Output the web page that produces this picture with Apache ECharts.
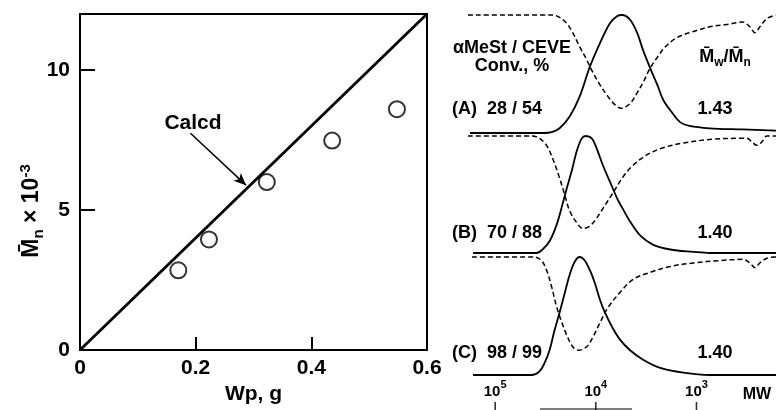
<!DOCTYPE html>
<html><head><meta charset="utf-8">
<script src="https://cdn.jsdelivr.net/npm/echarts@6/dist/echarts.min.js"></script>
<style>html,body{margin:0;padding:0;background:#fff}#c{width:776px;height:410px}</style>
</head><body><div id="c"></div>
<script>
// ---------- Left plot: Mn vs Wp ----------
const wp = [0.170, 0.223, 0.323, 0.436, 0.548];
const mnObs = [2.85, 3.95, 6.0, 7.48, 8.6];
const calcdWp = [0, 0.6];
const calcdMn = [0, 12];
const leftXTicks = [0, 0.2, 0.4, 0.6];
const leftYTicks = [0, 5, 10];

// ---------- Right panel: GPC traces (x = log10 MW) ----------
const mwTicks = [5, 4, 3];
const aSolidX = [5.25, 4.51, 4.43, 4.36, 4.26, 4.16, 4.06, 3.96, 3.86, 3.79, 3.74, 3.66, 3.59, 3.53, 3.46, 3.39, 3.33, 3.24, 3.16, 3.07, 2.87, 2.54, 2.21];
const aSolidY = [0, 0, 0.01, 0.04, 0.14, 0.31, 0.56, 0.76, 0.93, 0.99, 1.0, 0.96, 0.85, 0.70, 0.55, 0.41, 0.28, 0.17, 0.09, 0.06, 0.04, 0.03, 0.02];
const aDashX = [5.27, 4.43, 4.36, 4.29, 4.23, 4.16, 4.09, 4.04, 3.96, 3.88, 3.81, 3.75, 3.66, 3.59, 3.53, 3.46, 3.39, 3.31, 3.19, 3.03, 2.87, 2.70, 2.54, 2.47, 2.42, 2.37, 2.30, 2.21];
const aDashY = [1.0, 1.0, 0.98, 0.93, 0.85, 0.73, 0.62, 0.53, 0.41, 0.31, 0.24, 0.21, 0.25, 0.34, 0.43, 0.55, 0.64, 0.73, 0.81, 0.86, 0.90, 0.92, 0.94, 0.90, 0.85, 0.90, 0.97, 1.0];
const bSolidX = [5.22, 4.59, 4.53, 4.46, 4.39, 4.33, 4.29, 4.24, 4.19, 4.14, 4.10, 4.04, 3.99, 3.93, 3.86, 3.79, 3.74, 3.66, 3.56, 3.43, 3.26, 3.03, 2.87, 2.21];
const bSolidY = [0, 0, 0.03, 0.10, 0.24, 0.42, 0.55, 0.70, 0.87, 0.98, 1.0, 0.98, 0.89, 0.75, 0.61, 0.47, 0.39, 0.27, 0.15, 0.07, 0.03, 0.01, 0, 0];
const bDashX = [5.27, 4.63, 4.56, 4.49, 4.43, 4.36, 4.31, 4.26, 4.19, 4.13, 4.06, 3.99, 3.93, 3.84, 3.73, 3.63, 3.49, 3.33, 3.13, 2.87, 2.60, 2.50, 2.45, 2.40, 2.35, 2.30, 2.21];
const bDashY = [1.0, 1.0, 0.98, 0.92, 0.81, 0.64, 0.50, 0.36, 0.26, 0.21, 0.23, 0.30, 0.38, 0.50, 0.65, 0.75, 0.84, 0.90, 0.94, 0.97, 0.98, 0.98, 0.95, 0.92, 0.95, 1.0, 1.0];
const cSolidX = [5.22, 4.63, 4.56, 4.51, 4.46, 4.41, 4.36, 4.31, 4.26, 4.21, 4.16, 4.11, 4.06, 4.01, 3.96, 3.91, 3.84, 3.76, 3.66, 3.53, 3.36, 3.13, 2.87, 2.21];
const cSolidY = [0, 0, 0.03, 0.10, 0.21, 0.38, 0.53, 0.69, 0.85, 0.96, 1.0, 0.97, 0.89, 0.78, 0.64, 0.53, 0.41, 0.30, 0.21, 0.13, 0.06, 0.02, 0, 0];
const cDashX = [5.23, 4.61, 4.54, 4.49, 4.44, 4.39, 4.34, 4.29, 4.23, 4.17, 4.09, 4.03, 3.96, 3.88, 3.76, 3.63, 3.46, 3.26, 3.03, 2.77, 2.54, 2.47, 2.42, 2.37, 2.30, 2.21];
const cDashY = [1.0, 1.0, 0.97, 0.89, 0.75, 0.58, 0.45, 0.34, 0.24, 0.21, 0.24, 0.32, 0.44, 0.57, 0.70, 0.81, 0.87, 0.92, 0.95, 0.97, 0.98, 0.95, 0.91, 0.95, 0.99, 1.0];

const panelLabels = ['(A)  28 / 54', '(B)  70 / 88', '(C)  98 / 99'];
const pdiValues = ['1.43', '1.40', '1.40'];

const FF = "'Liberation Sans', Arial, Helvetica, sans-serif";
const zip = (xs, ys) => xs.map((x, i) => [x, ys[i]]);

const chart = echarts.init(document.getElementById('c'), null, {renderer: 'canvas'});

const rightGrids = [
  {left: 467, right: 0, top: 15, height: 118},
  {left: 467, right: 0, top: 136, height: 117},
  {left: 467, right: 0, top: 257, height: 118},
  {left: 467, right: 0, top: 403, height: 8}
];

const mwBase = gi => ({
  type: 'value', gridIndex: gi, inverse: true, min: 2.21, max: 5.28,
  splitLine: {show: false}, axisLine: {show: false}
});
const mwHidden = gi => Object.assign(mwBase(gi), {axisTick: {show: false}, axisLabel: {show: false}});
const mwLabels = Object.assign(mwBase(3), {
  offset: 28,
  axisTick: {show: false},
  axisLabel: {
    show: true, customValues: mwTicks, inside: true, margin: 4,
    formatter: v => '{b|10}{p|' + v + '}',
    rich: {
      b: {fontFamily: FF, fontWeight: 'bold', fontSize: 15, color: '#000', lineHeight: 20, verticalAlign: 'bottom'},
      p: {fontFamily: FF, fontWeight: 'bold', fontSize: 11, color: '#000', lineHeight: 12, verticalAlign: 'top'}
    }
  }
});
const hiddenY = gi => ({type: 'value', gridIndex: gi, min: 0, max: 1, show: false});

const solid = (gi, xs, ys) => ({type: 'line', xAxisIndex: gi, yAxisIndex: gi, data: zip(xs, ys), symbol: 'none', smooth: 0.35, clip: false,
  lineStyle: {color: '#000', width: 1.8}});
const dashed = (gi, xs, ys) => ({type: 'line', xAxisIndex: gi, yAxisIndex: gi, data: zip(xs, ys), symbol: 'none', smooth: 0.35, clip: false,
  lineStyle: {color: '#000', width: 1.5, type: [5, 3]}});

const boldTxt = (text, x, y, size, align) => ({type: 'text', x: x, y: y, silent: true,
  style: {text: text, fontFamily: FF, fontWeight: 'bold', fontSize: size, fill: '#000', align: align || 'center', verticalAlign: 'middle'}});

const panelY = [109, 233, 353];
const graphics = [];
panelLabels.forEach((t, i) => graphics.push(boldTxt(t, 452, panelY[i], 18, 'left')));
pdiValues.forEach((t, i) => graphics.push(boldTxt(t, 715, panelY[i], 18, 'center')));
graphics.push(boldTxt('\u03b1MeSt / CEVE', 512, 48, 18));
graphics.push(boldTxt('Conv., %', 512, 66, 18));
graphics.push(boldTxt('MW', 757, 395, 16));
graphics.push(boldTxt('Calcd', 193, 123, 21));
graphics.push({type: 'text', x: 725, y: 57, silent: true, style: {
  text: '{m|M\u0304}{s|w}{m|/M\u0304}{s|n}', align: 'center', verticalAlign: 'middle',
  rich: {
    m: {fontFamily: FF, fontWeight: 'bold', fontSize: 18, fill: '#000', lineHeight: 24, verticalAlign: 'middle'},
    s: {fontFamily: FF, fontWeight: 'bold', fontSize: 12, fill: '#000', lineHeight: 12, verticalAlign: 'bottom'}
  }}});
graphics.push({type: 'text', x: 32, y: 211, rotation: Math.PI / 2, silent: true, style: {
  text: '{m|M\u0304}{s|n}{m| \u00d7 10}{p|-3}', align: 'center', verticalAlign: 'middle',
  rich: {
    m: {fontFamily: FF, fontWeight: 'bold', fontSize: 23, fill: '#000', lineHeight: 28, verticalAlign: 'middle'},
    s: {fontFamily: FF, fontWeight: 'bold', fontSize: 15, fill: '#000', lineHeight: 14, verticalAlign: 'bottom'},
    p: {fontFamily: FF, fontWeight: 'bold', fontSize: 15, fill: '#000', lineHeight: 14, verticalAlign: 'top'}
  }}});
graphics.push({type: 'line', silent: true, shape: {x1: 540, y1: 409, x2: 632, y2: 409}, style: {stroke: '#000', lineWidth: 1.2}});

const option = {
  animation: false,
  backgroundColor: '#fff',
  grid: [
    {left: 80, right: 349, top: 14, bottom: 52, show: true, borderColor: '#000', borderWidth: 2, backgroundColor: 'transparent'},
    ...rightGrids
  ],
  xAxis: [
    {type: 'value', gridIndex: 0, min: 0, max: 0.6,
      splitLine: {show: false},
      axisLine: {show: true, lineStyle: {color: '#000', width: 2}},
      axisTick: {show: true, customValues: [0.2, 0.4], inside: true, length: 13, lineStyle: {color: '#000', width: 2}},
      axisLabel: {customValues: leftXTicks, margin: 8, fontFamily: FF, fontWeight: 'bold', fontSize: 21, color: '#000',
        formatter: v => v === 0 ? '0' : v.toFixed(1)},
      name: 'Wp, g', nameLocation: 'middle', nameGap: 32,
      nameTextStyle: {fontFamily: FF, fontWeight: 'bold', fontSize: 21, color: '#000'}
    },
    mwHidden(1), mwHidden(2), mwLabels, mwHidden(4)
  ],
  yAxis: [
    {type: 'value', gridIndex: 0, min: 0, max: 12,
      splitLine: {show: false},
      axisLine: {show: true, lineStyle: {color: '#000', width: 2}},
      axisTick: {show: true, customValues: [5, 10], inside: true, length: 15, lineStyle: {color: '#000', width: 2}},
      axisLabel: {customValues: leftYTicks, margin: 10, fontFamily: FF, fontWeight: 'bold', fontSize: 21, color: '#000'}
    },
    hiddenY(1), hiddenY(2), hiddenY(3), hiddenY(4)
  ],
  graphic: graphics,
  series: [
    {type: 'line', xAxisIndex: 0, yAxisIndex: 0, data: zip(calcdWp, calcdMn), symbol: 'none', clip: false,
      lineStyle: {color: '#000', width: 2.8},
      markLine: {silent: true, symbol: ['none', 'arrow'], symbolSize: [8, 12], label: {show: false},
        lineStyle: {color: '#000', width: 1.5, type: 'solid'},
        data: [[{coord: [0.191, 7.74]}, {coord: [0.287, 5.89]}]]}
    },
    {type: 'scatter', xAxisIndex: 0, yAxisIndex: 0, data: zip(wp, mnObs), symbol: 'circle', symbolSize: 16,
      itemStyle: {color: '#fff', borderColor: '#000', borderWidth: 2}, z: 5},
    solid(1, aSolidX, aSolidY), dashed(1, aDashX, aDashY),
    solid(2, bSolidX, bSolidY), dashed(2, bDashX, bDashY),
    solid(3, cSolidX, cSolidY), dashed(3, cDashX, cDashY),
    {type: 'scatter', xAxisIndex: 4, yAxisIndex: 4, data: mwTicks.map(v => [v, 0.5]), symbol: 'rect', symbolSize: [1.6, 9],
      itemStyle: {color: '#000'}, silent: true, clip: false}
  ]
};
chart.setOption(option);
</script></body></html>
